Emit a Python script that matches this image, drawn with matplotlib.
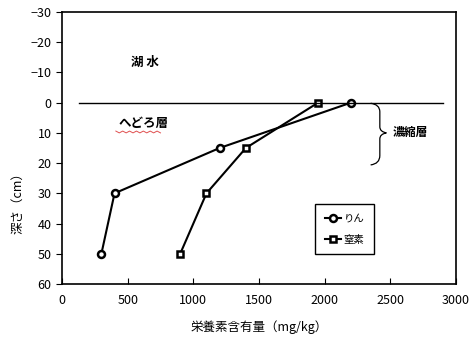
import numpy as np
import matplotlib
matplotlib.use("Agg")
import matplotlib.pyplot as plt
from matplotlib.path import Path
from matplotlib.patches import PathPatch

plt.rcParams['font.family'] = ['Noto Sans CJK JP', 'DejaVu Sans']
plt.rcParams['axes.unicode_minus'] = True

# 深さ別の栄養素含有量
depth = [0, 15, 30, 50]
phosphorus = [2200, 1200, 400, 300]   # りん
nitrogen = [1950, 1400, 1100, 900]    # 窒素

x_ticks = [0, 500, 1000, 1500, 2000, 2500, 3000]
y_ticks = [-30, -20, -10, 0, 10, 20, 30, 40, 50, 60]

fig = plt.figure(figsize=(4.75, 3.39), dpi=100)
ax = fig.add_axes([62 / 475, 1 - 284 / 339, 394 / 475, 272 / 339])

ax.plot(phosphorus, depth, color='black', lw=1.5, marker='o', ms=5,
        mfc='white', mec='black', mew=1.8, label='りん')
ax.plot(nitrogen, depth, color='black', lw=1.5, marker='s', ms=4.8,
        mfc='white', mec='black', mew=1.8, label='窒素')

# 湖水とへどろの境界
ax.plot([130, 2900], [0, 0], color='black', lw=1)

ax.set_xlim(0, 3000)
ax.set_ylim(60, -30)
ax.set_xticks(x_ticks)
ax.set_yticks(y_ticks)
ax.tick_params(axis='x', direction='in', length=4, labelsize=9, pad=7)
ax.tick_params(axis='y', direction='out', length=4, labelsize=9)
for s in ax.spines.values():
    s.set_linewidth(1.2)

ax.set_xlabel('栄養素含有量（mg/kg）', fontsize=9, labelpad=10)
ax.set_ylabel('深さ（cm）', fontsize=9)
ax.yaxis.set_label_coords(-0.095, 0.31)

ax.text(630, -13.5, '湖 水', fontsize=9, fontweight='bold', ha='center', va='center')
ax.text(620, 7, 'へどろ層', fontsize=9, fontweight='bold', ha='center', va='center')

# 波線（へどろ層の下）
wx = np.linspace(410, 750, 14)
wy = np.where(np.arange(14) % 2 == 0, 9.4, 10.0)
ax.plot(wx, wy, color='#e05050', lw=0.7)

# 濃縮層の中括弧
verts = [(2350, 0.2), (2420, 0.6), (2420, 3.0),
         (2420, 8.0),
         (2420, 9.6), (2470, 10.0),
         (2420, 10.4), (2420, 12.0),
         (2420, 17.5),
         (2420, 20.2), (2350, 20.6)]
codes = [Path.MOVETO, Path.CURVE3, Path.CURVE3,
         Path.LINETO,
         Path.CURVE3, Path.CURVE3,
         Path.CURVE3, Path.CURVE3,
         Path.LINETO,
         Path.CURVE3, Path.CURVE3]
ax.add_patch(PathPatch(Path(verts, codes), fill=False, lw=0.9, color='black'))
ax.text(2520, 10, '濃縮層', fontsize=8.5, fontweight='bold', ha='left', va='center')

leg = ax.legend(loc='upper left', bbox_to_anchor=(0.63, 0.3125), fontsize=7.5,
                fancybox=False, edgecolor='black', framealpha=1,
                handlelength=1.6, borderpad=0.9, labelspacing=1.1,
                handletextpad=0.2)
leg.get_frame().set_linewidth(1.0)

fig.savefig('out.png', dpi=100)
